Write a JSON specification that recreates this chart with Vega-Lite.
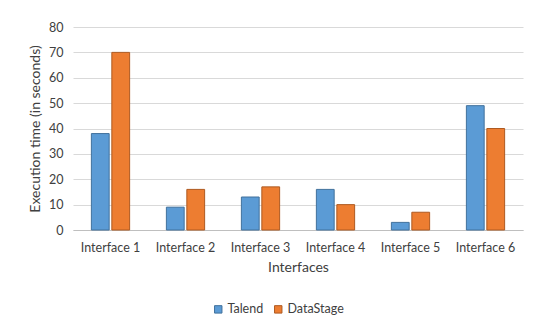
{
  "$schema": "https://vega.github.io/schema/vega-lite/v6.json",
  "width": 450,
  "height": 203,
  "autosize": {"type": "none"},
  "padding": {"left": 73, "top": 27, "right": 11, "bottom": 92},
  "background": "white",
  "config": {
    "font": "Lato",
    "view": {"stroke": null}
  },
  "data": {
    "values": [
      {"interface": "Interface 1", "tool": "Talend", "time": 38},
      {"interface": "Interface 1", "tool": "DataStage", "time": 70},
      {"interface": "Interface 2", "tool": "Talend", "time": 9},
      {"interface": "Interface 2", "tool": "DataStage", "time": 16},
      {"interface": "Interface 3", "tool": "Talend", "time": 13},
      {"interface": "Interface 3", "tool": "DataStage", "time": 17},
      {"interface": "Interface 4", "tool": "Talend", "time": 16},
      {"interface": "Interface 4", "tool": "DataStage", "time": 10},
      {"interface": "Interface 5", "tool": "Talend", "time": 3},
      {"interface": "Interface 5", "tool": "DataStage", "time": 7},
      {"interface": "Interface 6", "tool": "Talend", "time": 49},
      {"interface": "Interface 6", "tool": "DataStage", "time": 40}
    ]
  },
  "mark": {"type": "bar", "strokeWidth": 1},
  "encoding": {
    "x": {
      "field": "interface", "type": "nominal",
      "scale": {"paddingInner": 0.49, "paddingOuter": 0.245},
      "axis": {
        "title": "Interfaces", "titleFontSize": 14, "titleFontWeight": "normal", "titleColor": "#404040",
        "titlePadding": 7,
        "labelAngle": 0, "labelFontSize": 12.5, "labelColor": "#404040", "labelPadding": 11,
        "ticks": false, "domainColor": "#bfbfbf", "domainWidth": 1
      }
    },
    "xOffset": {
      "field": "tool", "type": "nominal", "sort": ["Talend", "DataStage"],
      "scale": {"paddingInner": 0.13}
    },
    "y": {
      "field": "time", "type": "quantitative",
      "scale": {"domain": [0, 80]},
      "axis": {
        "title": "Execution time (in seconds)", "titleFontSize": 14, "titleFontWeight": "normal", "titleColor": "#404040",
        "titlePadding": 6,
        "values": [0, 10, 20, 30, 40, 50, 60, 70, 80],
        "labelFontSize": 12.5, "labelColor": "#404040", "labelPadding": 10,
        "ticks": false, "domain": false,
        "gridColor": "#d9d9d9", "gridWidth": 1
      }
    },
    "color": {
      "field": "tool", "type": "nominal", "sort": ["Talend", "DataStage"],
      "scale": {"domain": ["Talend", "DataStage"], "range": ["#5b9bd5", "#ed7d31"]},
      "legend": {
        "title": null, "orient": "none", "direction": "horizontal",
        "legendX": 139, "legendY": 276,
        "symbolType": "square", "symbolSize": 55, "labelFontSize": 12.5, "labelColor": "#404040",
        "columnPadding": 8, "labelOffset": 3, "symbolStrokeWidth": 1
      }
    },
    "stroke": {
      "field": "tool", "type": "nominal",
      "scale": {"domain": ["Talend", "DataStage"], "range": ["#41719c", "#ae5a21"]},
      "legend": null
    }
  }
}
